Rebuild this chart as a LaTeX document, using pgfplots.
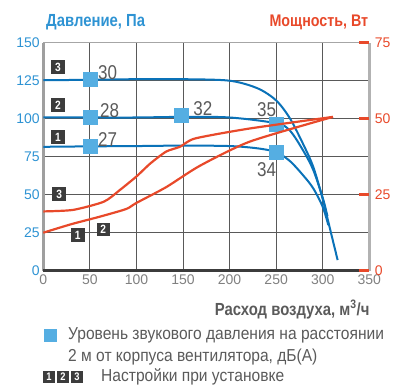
\documentclass[border=0pt]{standalone}
\usepackage{fontspec}
\setmainfont{Liberation Sans}
\newfontfamily\cond[FakeStretch=0.85]{Liberation Sans}
\newfontfamily\condn[FakeStretch=0.9]{Liberation Sans}
\usepackage{pgfplots}
\pgfplotsset{compat=1.18}
\definecolor{pblue}{HTML}{0A72B8}
\definecolor{lblue}{HTML}{2E93D3}
\definecolor{mblue}{HTML}{55AEE2}
\definecolor{pred}{HTML}{E8492A}
\definecolor{tgray}{HTML}{5A5A5A}
\definecolor{bgray}{HTML}{3C3C3C}

\begin{document}
\begin{tikzpicture}[
  box/.style={fill=bgray, text=white, font=\cond\bfseries\fontsize{12}{12}\selectfont, inner sep=0pt, minimum size=13.5pt},
  sbox/.style={fill=bgray, text=white, font=\cond\bfseries\fontsize{11}{11}\selectfont, inner sep=0pt, minimum size=12pt},
  val/.style={text=tgray, font=\cond\fontsize{20}{20}\selectfont, inner sep=0pt},
  leg/.style={anchor=base west, text=tgray, font=\condn\fontsize{17.3}{17.3}\selectfont, inner sep=0pt}]
\path[use as bounding box] (-43.3pt,-114.3pt) rectangle (351.7pt,270.7pt);

% pressure, left axis
\begin{axis}[
  scale only axis, width=326pt, height=228pt,
  xmin=0, xmax=350, ymin=0, ymax=150,
  xtick={0,50,...,350}, ytick={0,25,...,150},
  grid=major, major grid style={draw=bgray!85, line width=0.8pt},
  axis line style={draw=none},
  major tick length=0pt,
  tick label style={font=\fontsize{14}{14}\selectfont},
  yticklabel style={text=lblue},
  xticklabel style={text=gray},
  /pgf/number format/assume math mode=true,
  clip=false,
]
\draw[gray!70, line width=1.5pt] (rel axis cs:0,1) -- (rel axis cs:1,1);
\draw[gray!60, line width=3pt] (rel axis cs:1,0) -- (rel axis cs:1,1);
\draw[gray!75, line width=3pt] (rel axis cs:0,0) -- (rel axis cs:0,1);
\draw[bgray, line width=2.5pt] (rel axis cs:0,0) -- (rel axis cs:1,0);

\addplot[pblue, line width=2pt, smooth] coordinates {
  (0,81.5)(50,81.8)(100,82)(150,82.3)(200,82)(230,80.5)(250,78)(265,72)(280,62)(290,54)(300,42)(306,30)};
\addplot[pblue, line width=2pt, smooth] coordinates {
  (0,100.8)(50,100.8)(100,100.8)(150,101.2)(200,100.8)(250,97)(265,92)(280,78)(290,66)(300,48)(305,36)};
\addplot[pblue, line width=2pt, smooth] coordinates {
  (0,125.3)(50,125.6)(100,126)(150,126)(200,125)(230,120)(250,112)(265,100)(280,82)(290,68)(300,47)(310,22)(316,7)};

\addplot[only marks, mark=square*, mark size=7pt, mblue] coordinates {
  (50,126)(50,101)(50,82)(148,102)(250,96.5)(250,78)};

\node[val, anchor=base west] at ([xshift=8pt]axis cs:50,126) {30};
\node[val, anchor=base west] at ([xshift=10pt]axis cs:50,101) {28};
\node[val, anchor=base west] at ([xshift=8pt]axis cs:50,82) {27};
\node[val, anchor=base west] at ([xshift=12pt]axis cs:148,102) {32};
\node[val, anchor=base east] at ([yshift=8pt]axis cs:250,96.5) {35};
\node[val, anchor=north east] at ([yshift=-10pt]axis cs:250,78) {34};

\node[box] at (axis cs:15.8,134) {3};
\node[box] at (axis cs:15.8,109) {2};
\node[box] at (axis cs:15.8,88) {1};
\node[box] at (axis cs:17,50.5) {3};
\node[box] at (axis cs:37,23.5) {1};
\node[box] at (axis cs:64.4,27.2) {2};
\end{axis}

% power, right axis
\begin{axis}[
  scale only axis, width=326pt, height=228pt,
  xmin=0, xmax=350, ymin=0, ymax=75,
  axis x line=none, axis y line*=right,
  ytick={0,25,50,75},
  y axis line style={draw=none},
  ytick style={pred, line width=2.5pt},
  major tick length=10pt, tick align=inside,
  yticklabel style={text=pred, font=\fontsize{14}{14}\selectfont, xshift=2pt},
  /pgf/number format/assume math mode=true,
  clip=false,
]
\addplot[pred, line width=2.2pt, smooth, tension=0.4] coordinates {
  (0,12.5)(30,15.3)(61,17.8)(89,20.3)(100,22.3)(132,27.5)(168,34.5)(222,42.5)(311,50.6)};
\addplot[pred, line width=2.2pt, smooth, tension=0.4] coordinates {
  (0,19.5)(32,20)(65,22.7)(82,26.5)(100,31)(115,35.3)(132,39.2)(147,40.8)(163,43.5)(222,46.8)(311,50.6)};
\end{axis}

\node[anchor=base west, text=lblue, font=\cond\bfseries\fontsize{17.5}{17.5}\selectfont] at (-0.6pt,244pt) {Давление, Па};
\node[anchor=base east, text=pred, font=\cond\bfseries\fontsize{16.8}{16.8}\selectfont] at (328.4pt,244pt) {Мощность, Вт};
\node[anchor=base east, text=tgray, font=\cond\bfseries\fontsize{17.5}{17.5}\selectfont] at (329.7pt,-44.3pt) {Расход воздуха, м\textsuperscript{3}/ч};

\node[fill=mblue, inner sep=0pt, minimum size=13pt] at (6.7pt,-64.8pt) {};
\node[leg] at (24.7pt,-69pt) {Уровень звукового давления на расстоянии};
\node[leg] at (24.7pt,-90.3pt) {2 м от корпуса вентилятора, дБ(А)};
\node[sbox] at (5.7pt,-105.8pt) {1};
\node[sbox] at (19.7pt,-105.8pt) {2};
\node[sbox] at (33.7pt,-105.8pt) {3};
\node[leg] at (57.7pt,-110.8pt) {Настройки при установке};
\end{tikzpicture}
\end{document}
